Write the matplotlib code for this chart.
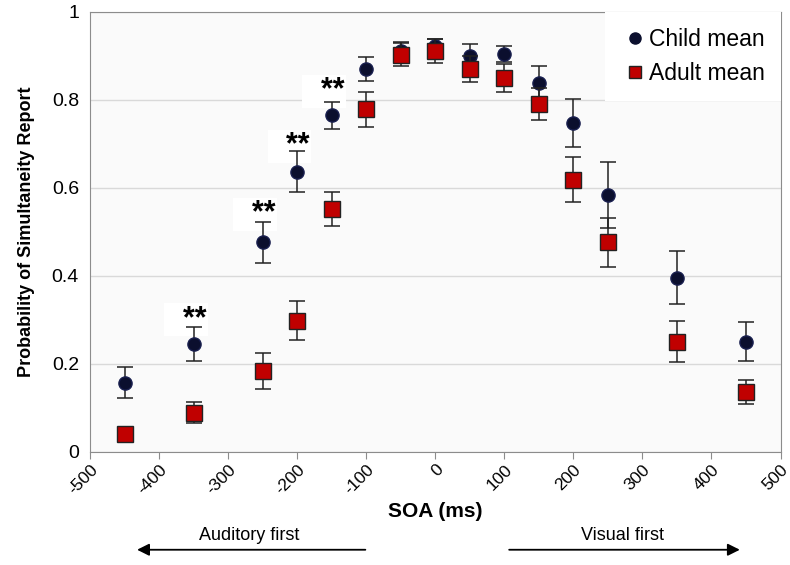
import matplotlib.pyplot as plt
from matplotlib.lines import Line2D
from matplotlib.patches import FancyArrowPatch
import numpy as np

plt.rcParams['font.family'] = ['Liberation Sans', 'DejaVu Sans']

# SOA values (ms)
soa = [-450, -350, -250, -200, -150, -100, -50, 0, 50, 100, 150, 200, 250, 350, 450]

child_mean = [0.157, 0.245, 0.476, 0.637, 0.765, 0.870, 0.912, 0.922, 0.899, 0.904, 0.839, 0.748, 0.584, 0.396, 0.251]
child_err = [0.035, 0.038, 0.047, 0.046, 0.030, 0.028, 0.02, 0.016, 0.028, 0.018, 0.038, 0.055, 0.074, 0.06, 0.045]

adult_mean = [0.042, 0.089, 0.184, 0.298, 0.552, 0.779, 0.903, 0.911, 0.870, 0.850, 0.790, 0.619, 0.476, 0.251, 0.137]
adult_err = [0.008, 0.024, 0.040, 0.044, 0.039, 0.040, 0.026, 0.027, 0.029, 0.031, 0.036, 0.051, 0.056, 0.047, 0.027]

# significance markers
sig_x = [-350, -250, -200, -150]
sig_y = [0.300, 0.540, 0.695, 0.820]

fig = plt.figure(figsize=(7.9, 5.65), dpi=100)
ax = fig.add_axes([0.114, 0.2, 0.874, 0.779])
ax.set_facecolor('#fafafa')

child_fc = '#0b0f2e'
adult_fc = '#c00000'

ax.errorbar(soa, child_mean, yerr=child_err, fmt='o', ecolor='#222222',
            markerfacecolor=child_fc, markeredgecolor='#1a2050', markersize=9.5,
            elinewidth=1.1, capsize=6, capthick=1.1, zorder=3)
ax.errorbar(soa, adult_mean, yerr=adult_err, fmt='s', ecolor='#222222',
            markerfacecolor=adult_fc, markeredgecolor='#222222', markersize=11,
            elinewidth=1.1, capsize=6, capthick=1.1, zorder=4)

for x, y in zip(sig_x, sig_y):
    ax.annotate('  **', xy=(x, y), xytext=(9, 0), textcoords='offset points',
                ha='right', va='center', fontsize=22, fontweight='bold',
                bbox=dict(facecolor='white', edgecolor='none', pad=1), zorder=2)

ax.set_xlim(-500, 500)
ax.set_ylim(0, 1)
ax.set_xticks(np.arange(-500, 501, 100))
ax.set_xticklabels([str(v) for v in range(-500, 501, 100)], rotation=45,
                   ha='right', va='top', rotation_mode='anchor', fontsize=12.5)
ax.set_yticks([0, 0.2, 0.4, 0.6, 0.8, 1])
ax.set_yticklabels(['0', '0.2', '0.4', '0.6', '0.8', '1'], fontsize=14)
ax.grid(axis='y', color='#d9d9d9', linewidth=1)
ax.set_axisbelow(True)
for s in ax.spines.values():
    s.set_color('#8c8c8c')
ax.tick_params(axis='x', length=5, color='#8c8c8c', pad=2)
ax.tick_params(axis='y', length=0, pad=8)

ax.set_ylabel('Probability of Simultaneity Report', fontsize=13, fontweight='bold', labelpad=12)
ax.set_xlabel('SOA (ms)', fontsize=15, fontweight='bold', labelpad=4)

handles = [
    Line2D([], [], marker='o', linestyle='none', markersize=8,
           markerfacecolor=child_fc, markeredgecolor=child_fc),
    Line2D([], [], marker='s', linestyle='none', markersize=9,
           markerfacecolor=adult_fc, markeredgecolor='#222222'),
]
leg = ax.legend(handles, ['Child mean', 'Adult mean'], loc='upper right', fontsize=16.5,
                frameon=True, handletextpad=0.0, borderaxespad=0.3, labelspacing=0.5,
                handlelength=1.2, borderpad=0.4)
leg.get_frame().set_facecolor('white')
leg.get_frame().set_edgecolor('none')
leg.get_frame().set_alpha(1)
leg.get_frame().set_boxstyle('square')

# direction arrows
fig.text(0.315, 0.053, 'Auditory first', ha='center', va='center', fontsize=13)
fig.text(0.788, 0.053, 'Visual first', ha='center', va='center', fontsize=13)
fig.add_artist(FancyArrowPatch((0.466, 0.027), (0.17, 0.027), transform=fig.transFigure,
                               arrowstyle='-|>', mutation_scale=18, color='black', lw=1.3))
fig.add_artist(FancyArrowPatch((0.641, 0.027), (0.94, 0.027), transform=fig.transFigure,
                               arrowstyle='-|>', mutation_scale=18, color='black', lw=1.3))

plt.savefig('out.png', dpi=100)
